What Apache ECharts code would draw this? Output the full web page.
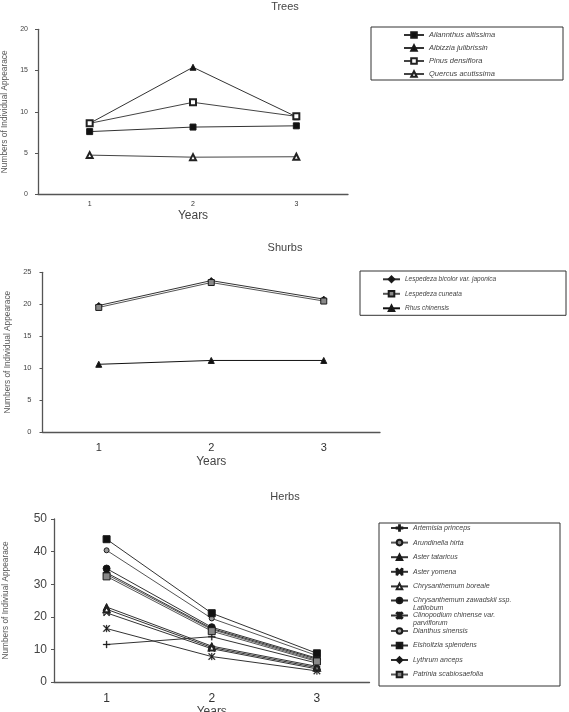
<!DOCTYPE html>
<html>
<head>
<meta charset="utf-8">
<script src="https://cdn.jsdelivr.net/npm/echarts@6/dist/echarts.min.js"></script>
<style>
html, body { margin: 0; padding: 0; background: #fff; }
#main { width: 569px; height: 712px; }
</style>
</head>
<body>
<div id="main"></div>
<script>
// categories
const years = ['1', '2', '3'];

// y tick labels of each panel
const treeTicks = [0, 5, 10, 15, 20];
const shrubTicks = [0, 5, 10, 15, 20, 25];
const herbTicks = [0, 10, 20, 30, 40, 50];

// Trees
const ailanthus = [7.6, 8.15, 8.3];
const albizzia = [8.6, 15.4, 9.4];
const pinus = [8.6, 11.15, 9.45];
const quercus = [4.75, 4.5, 4.55];

// Shurbs
const lespBicolor = [19.8, 23.7, 20.8];
const lespCuneata = [19.5, 23.4, 20.5];
const rhus = [10.6, 11.2, 11.2];

// Herbs
const artemisia = [11.5, 13.9, 5.8];
const arundinella = [33.0, 16.1, 6.6];
const asterTataricus = [23.0, 11.0, 4.8];
const asterYomena = [21.2, 10.2, 4.0];
const chrysBoreale = [22.3, 10.6, 4.4];
const chrysZawadskii = [34.8, 16.8, 7.3];
const clinopodium = [16.4, 7.8, 3.4];
const dianthus = [40.4, 19.5, 8.1];
const elsholtzia = [43.8, 21.1, 8.8];
const lythrum = [33.5, 16.4, 7.0];
const patrinia = [32.4, 15.6, 6.3];

const FONT = '"Liberation Sans", Arial, sans-serif';
const PLUS = 'path://M4.3,0H5.7V10H4.3ZM0,4.3H10V5.7H0Z';
const CROSSBAR = 'path://M0,1L1,0L5,4L9,0L10,1L6,5L10,9L9,10L5,6L1,10L0,9L4,5ZM0,0H1V10H0ZM9,0H10V10H9Z';
const STAR = 'path://M0,1L1,0L5,4L9,0L10,1L6,5L10,9L9,10L5,6L1,10L0,9L4,5ZM4.4,0H5.6V10H4.4Z';

function mk(name, data, idx, symbol, fill, size, lineColor) {
  return {
    name: name, type: 'line', data: data,
    xAxisIndex: idx, yAxisIndex: idx,
    symbol: symbol, symbolSize: size,
    lineStyle: { color: lineColor || '#333', width: 1 },
    itemStyle: { color: fill, borderColor: '#1a1a1a', borderWidth: symbol.indexOf('path') === 0 ? 0.3 : 1 },
    emphasis: { disabled: true }
  };
}

const ctx = document.createElement('canvas').getContext('2d');
function textW(list, size) {
  ctx.font = 'italic ' + size + 'px ' + FONT;
  let w = 0;
  list.forEach(function (s) {
    s.split('\n').forEach(function (l) { w = Math.max(w, ctx.measureText(l).width); });
  });
  return w;
}
// two-line legend names; an empty first line keeps the icon beside the first text line
function splitName(n) {
  return '\n' + n.replace(' ssp. ', ' ssp.\n').replace(' var. ', ' var.\n');
}

const treeSeries = [
  mk('Ailannthus altissima', ailanthus, 0, 'rect', '#111', 6),
  mk('Albizzia julibrissin', albizzia, 0, 'triangle', '#111', 6),
  mk('Pinus densiflora', pinus, 0, 'emptyRect', '#222', 6, '#444'),
  mk('Quercus acutissima', quercus, 0, 'emptyTriangle', '#222', 6, '#444')
];
const shrubSeries = [
  mk('Lespedeza bicolor var. japonica', lespBicolor, 1, 'diamond', '#111', 6),
  mk('Lespedeza cuneata', lespCuneata, 1, 'rect', '#888', 6, '#555'),
  mk('Rhus chinensis', rhus, 1, 'triangle', '#111', 6, '#111')
];
const herbSeries = [
  mk('Artemisia princeps', artemisia, 2, PLUS, '#222', 7),
  mk('Arundinella hirta', arundinella, 2, 'circle', '#888', 6, '#555'),
  mk('Aster tataricus', asterTataricus, 2, 'triangle', '#111', 7),
  mk('Aster yomena', asterYomena, 2, CROSSBAR, '#222', 6),
  mk('Chrysanthemum boreale', chrysBoreale, 2, 'emptyTriangle', '#222', 6),
  mk('Chrysanthemum zawadskii ssp. Latilobum', chrysZawadskii, 2, 'circle', '#111', 7),
  mk('Clinopodium chinense var. parviflorum', clinopodium, 2, STAR, '#222', 7),
  mk('Dianthus sinensis', dianthus, 2, 'circle', '#999', 5, '#555'),
  mk('Elsholtzia splendens', elsholtzia, 2, 'rect', '#111', 7),
  mk('Lythrum anceps', lythrum, 2, 'diamond', '#111', 7),
  mk('Patrinia scabiosaefolia', patrinia, 2, 'rect', '#888', 7, '#555')
];

// o: {series, left, top, iconX, itemW, gap, padT, padB, size, lh, boxRight, fmt, border}
function legend(o) {
  const names = o.series.map(function (s) { return o.fmt ? o.fmt(s.name) : s.name; });
  const w = textW(names, o.size);
  const padL = o.iconX - o.left;
  const padR = o.boxRight ? Math.max(2, o.boxRight - (o.iconX + o.itemW + 5 + w)) : 2;
  return {
    orient: 'vertical', left: o.left, top: o.top,
    data: o.series.map(function (s) { return s.name; }),
    itemWidth: o.itemW, itemHeight: 7, itemGap: o.gap,
    padding: [o.padT, padR, o.padB, padL],
    borderColor: '#333', borderWidth: o.border ? 1 : 0,
    formatter: o.fmt || '{name}',
    selectedMode: false,
    textStyle: { fontSize: o.size, fontStyle: 'italic', color: '#444', fontFamily: FONT, lineHeight: o.lh }
  };
}

function xAx(idx, fs, margin, nameGap) {
  return {
    gridIndex: idx, type: 'category', data: years, boundaryGap: true,
    name: 'Years', nameLocation: 'middle', nameGap: nameGap,
    nameTextStyle: { fontSize: 12, color: '#444', fontFamily: FONT },
    axisLine: { lineStyle: { color: '#555', width: 1.3 } },
    axisTick: { inside: true, length: 4, lineStyle: { color: '#555' } },
    axisLabel: { fontSize: fs, color: '#333', margin: margin, fontFamily: FONT },
    splitLine: { show: false }
  };
}
function yAx(idx, ticks, name, fs, margin, nameGap) {
  return {
    gridIndex: idx, type: 'value',
    min: ticks[0], max: ticks[ticks.length - 1], interval: ticks[1] - ticks[0],
    name: name, nameLocation: 'middle', nameGap: nameGap,
    nameTextStyle: { fontSize: 8.3, color: '#555', fontFamily: FONT },
    axisLine: { show: true, lineStyle: { color: '#555', width: 1.3 } },
    axisTick: { show: true, length: 3, lineStyle: { color: '#555' } },
    axisLabel: { fontSize: fs, color: '#444', margin: margin, fontFamily: FONT },
    splitLine: { show: false }
  };
}

// herb legend: the box holds items 1-5, the two-line items get their own legends
const herbTop = herbSeries.slice(0, 5);
const herbBoxBottom = 686;
const herbLh = 8;
const herbTopContent = 5 * herbLh + 4 * 6.6;

const chart = echarts.init(document.getElementById('main'));
chart.setOption({
  animation: false,
  backgroundColor: '#fff',
  textStyle: { fontFamily: FONT },
  title: [
    { text: 'Trees', left: 285, top: 1, textAlign: 'center', padding: 0, textStyle: { fontSize: 11, fontWeight: 'normal', color: '#444' } },
    { text: 'Shurbs', left: 285, top: 242, textAlign: 'center', padding: 0, textStyle: { fontSize: 11, fontWeight: 'normal', color: '#444' } },
    { text: 'Herbs', left: 285, top: 491, textAlign: 'center', padding: 0, textStyle: { fontSize: 11, fontWeight: 'normal', color: '#444' } }
  ],
  grid: [
    { left: 38, top: 29.3, width: 310, height: 165, outerBoundsMode: 'none', containLabel: false },
    { left: 42.5, top: 272.3, width: 337.5, height: 159.7, outerBoundsMode: 'none', containLabel: false },
    { left: 54, top: 519, width: 315.5, height: 163, outerBoundsMode: 'none', containLabel: false }
  ],
  xAxis: [xAx(0, 7, 6, 15), xAx(1, 11, 10, 24), xAx(2, 12, 11, 24)],
  yAxis: [
    yAx(0, treeTicks, 'Numbers of Individual Appearace', 7, 10, 29),
    yAx(1, shrubTicks, 'Numbers of Individual Appearace', 7.5, 11, 31),
    yAx(2, herbTicks, 'Numbers of Indiviual Appearace', 12, 7, 44)
  ],
  legend: [
    legend({ series: treeSeries, left: 371, top: 27, iconX: 403, itemW: 20, gap: 5, padT: 4, padB: 2, size: 7.5, lh: 8, boxRight: 562, border: true }),
    legend({ series: shrubSeries, left: 360, top: 271, iconX: 382, itemW: 17, gap: 6.5, padT: 4.3, padB: 3, size: 6.5, lh: 8, boxRight: 565, border: true }),
    legend({ series: herbTop, left: 379, top: 523, iconX: 390, itemW: 17, gap: 6.6, padT: 1, padB: herbBoxBottom - 524 - herbTopContent, size: 7, lh: herbLh, boxRight: 559, border: true }),
    legend({ series: herbSeries.slice(5, 6), left: 379, top: 588.5, iconX: 390, itemW: 17, gap: 0, padT: 0, padB: 0, size: 7, lh: herbLh, fmt: splitName }),
    legend({ series: herbSeries.slice(6, 7), left: 379, top: 603.5, iconX: 390, itemW: 17, gap: 0, padT: 0, padB: 0, size: 7, lh: herbLh, fmt: splitName }),
    legend({ series: herbSeries.slice(7), left: 379, top: 627, iconX: 390, itemW: 17, gap: 6.5, padT: 0, padB: 0, size: 7, lh: herbLh })
  ],
  series: treeSeries.concat(shrubSeries, herbSeries)
});
</script>
</body>
</html>
